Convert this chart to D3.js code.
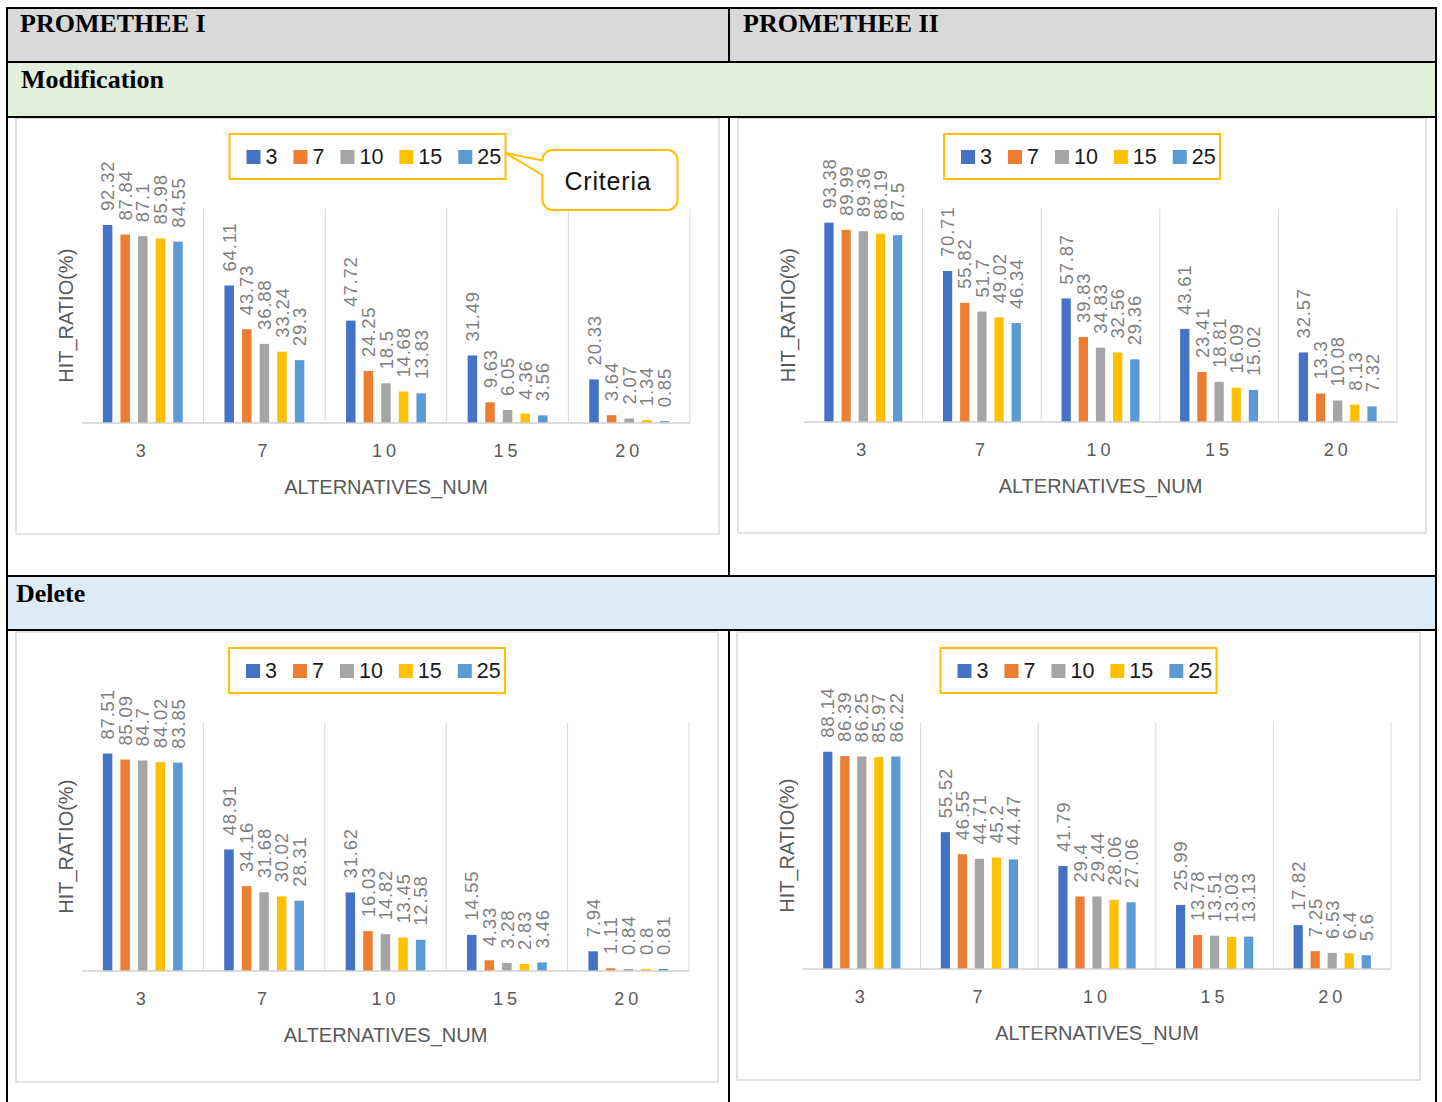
<!DOCTYPE html>
<html>
<head>
<meta charset="utf-8">
<script src="https://cdn.jsdelivr.net/npm/d3@7"></script>
<style>
  html, body { margin: 0; padding: 0; background: #fff; }
  svg { display: block; }
</style>
</head>
<body>
<svg id="page" width="1442" height="1102"></svg>
<script>
// Category axis: number of alternatives; series: number of criteria
const alternatives = ["3", "7", "10", "15", "20"];
const criteria = ["3", "7", "10", "15", "25"];
const criteriaColors = ["#4472c4", "#ed7d31", "#a5a5a5", "#ffc000", "#5b9bd5"];

// Hit ratio (%) — one row per criteria count, one value per alternatives count
const modificationI = [
  [92.32, 64.11, 47.72, 31.49, 20.33],
  [87.84, 43.73, 24.25, 9.63, 3.64],
  [87.1, 36.88, 18.5, 6.05, 2.07],
  [85.98, 33.24, 14.68, 4.36, 1.34],
  [84.55, 29.3, 13.83, 3.56, 0.85]
];
const modificationII = [
  [93.38, 70.71, 57.87, 43.61, 32.57],
  [89.99, 55.82, 39.83, 23.41, 13.3],
  [89.36, 51.7, 34.83, 18.81, 10.08],
  [88.19, 49.02, 32.56, 16.09, 8.13],
  [87.5, 46.34, 29.36, 15.02, 7.32]
];
const deleteI = [
  [87.51, 48.91, 31.62, 14.55, 7.94],
  [85.09, 34.16, 16.03, 4.33, 1.11],
  [84.7, 31.68, 14.82, 3.28, 0.84],
  [84.02, 30.02, 13.45, 2.83, 0.8],
  [83.85, 28.31, 12.58, 3.46, 0.81]
];
const deleteII = [
  [88.14, 55.52, 41.79, 25.99, 17.82],
  [86.39, 46.55, 29.4, 13.78, 7.25],
  [86.25, 44.71, 29.44, 13.51, 6.53],
  [85.97, 45.2, 28.06, 13.03, 6.4],
  [86.22, 44.47, 27.06, 13.13, 5.6]
];

const columnTitles = ["PROMETHEE I", "PROMETHEE II"];
const rowTitles = ["Modification", "Delete"];
const xAxisTitle = "ALTERNATIVES_NUM";
const yAxisTitle = "HIT_RATIO(%)";
const calloutText = "Criteria";

const svg = d3.select("#page");
const SANS = "'Liberation Sans', Arial, sans-serif";
const SERIF = "'Liberation Serif', 'Times New Roman', serif";

// ---------- table background ----------
const table = svg.append("g");
table.append("rect").attr("x", 7).attr("y", 8).attr("width", 1429).attr("height", 54).attr("fill", "#d9d9d9");
table.append("rect").attr("x", 7).attr("y", 62).attr("width", 1429).attr("height", 55).attr("fill", "#e2efda");
table.append("rect").attr("x", 7).attr("y", 576).attr("width", 1429).attr("height", 54).attr("fill", "#ddebf7");

// ---------- one clustered bar chart ----------
function drawChart(panel, rows, withCallout) {
  const g = svg.append("g");
  g.append("rect")
    .attr("x", panel.x).attr("y", panel.y)
    .attr("width", panel.w).attr("height", panel.h)
    .attr("fill", "#fff").attr("stroke", "#d9d9d9").attr("stroke-width", 1.5);

  const left = panel.x + 66, right = panel.x + panel.w - 29;
  const top = panel.y + 90.5, bottom = panel.y + panel.h - 111;

  const x = d3.scaleBand().domain(alternatives).range([left, right]).padding(0);
  const xs = d3.scaleBand().domain(criteria).range([0, x.bandwidth()])
    .paddingInner(0.46).paddingOuter(1.185);
  const y = d3.scaleLinear().domain([0, 100]).range([bottom, top]);
  const color = d3.scaleOrdinal().domain(criteria).range(criteriaColors);

  // category separators
  g.append("g").selectAll("line").data(alternatives).join("line")
    .attr("x1", d => x(d) + x.bandwidth()).attr("x2", d => x(d) + x.bandwidth())
    .attr("y1", top).attr("y2", bottom)
    .attr("stroke", "#d9d9d9").attr("stroke-width", 1);

  const records = [];
  criteria.forEach((c, i) => {
    alternatives.forEach((a, j) => records.push({ alt: a, crit: c, value: rows[i][j] }));
  });

  // bars
  g.append("g").selectAll("rect").data(records).join("rect")
    .attr("x", d => x(d.alt) + xs(d.crit))
    .attr("width", xs.bandwidth())
    .attr("y", d => y(d.value))
    .attr("height", d => y(0) - y(d.value))
    .attr("fill", d => color(d.crit));

  // category axis
  const axis = g.append("g").attr("transform", `translate(0,${bottom})`)
    .call(d3.axisBottom(x).tickSize(0).tickPadding(21));
  axis.select(".domain").remove();
  axis.selectAll("text")
    .attr("font-family", SANS).attr("font-size", 18)
    .attr("letter-spacing", "4px").attr("dx", 0)
    .attr("fill", "#595959");
  g.append("line").attr("x1", left).attr("x2", right)
    .attr("y1", bottom).attr("y2", bottom)
    .attr("stroke", "#d0d0d0").attr("stroke-width", 1.5);

  // value labels, rotated above each bar
  g.append("g").selectAll("text").data(records).join("text")
    .attr("transform", d => `translate(${x(d.alt) + xs(d.crit) + xs.bandwidth() / 2},${y(d.value) - 14}) rotate(-90)`)
    .attr("dy", "0.36em")
    .attr("font-family", SANS).attr("font-size", 18.5)
    .attr("letter-spacing", "0.8px")
    .attr("fill", "#7f7f7f")
    .text(d => d.value);

  // axis titles
  g.append("text")
    .attr("x", (left + right) / 2).attr("y", bottom + 71)
    .attr("text-anchor", "middle")
    .attr("font-family", SANS).attr("font-size", 20).attr("fill", "#595959")
    .text(xAxisTitle);
  g.append("text")
    .attr("transform", `translate(${left - 9},${(top + bottom) / 2}) rotate(-90)`)
    .attr("text-anchor", "middle")
    .attr("font-family", SANS).attr("font-size", 20).attr("fill", "#595959")
    .text(yAxisTitle);

  // legend
  const lw = 276, lh = 45;
  const lx = panel.x + panel.w / 2 - lw / 2, ly = panel.y + 16;
  const legend = g.append("g");
  legend.append("rect").attr("x", lx).attr("y", ly).attr("width", lw).attr("height", lh)
    .attr("fill", "#fff").attr("stroke", "#ffc000").attr("stroke-width", 2);
  let cx = lx + 17;
  criteria.forEach(c => {
    legend.append("rect").attr("x", cx).attr("y", ly + 16).attr("width", 14).attr("height", 14)
      .attr("fill", color(c));
    const t = legend.append("text").attr("x", cx + 19).attr("y", ly + 29.5)
      .attr("font-family", SANS).attr("font-size", 21.5).attr("fill", "#1a1a1a")
      .text(c);
    cx += 19 + t.node().getComputedTextLength() + 16;
  });

  if (withCallout) {
    const L = lx + lw + 37, T = ly + 16, R = L + 135, B = T + 60, r = 10;
    const tipX = lx + lw, tipY = ly + 19;
    const p = d3.path();
    p.moveTo(L + r, T);
    p.lineTo(R - r, T); p.arcTo(R, T, R, T + r, r);
    p.lineTo(R, B - r); p.arcTo(R, B, R - r, B, r);
    p.lineTo(L + r, B); p.arcTo(L, B, L, B - r, r);
    p.lineTo(L, T + 25);
    p.lineTo(tipX, tipY);
    p.lineTo(L, T + 10.5);
    p.lineTo(L, T + r); p.arcTo(L, T, L + r, T, r);
    p.closePath();
    g.append("path").attr("d", p.toString())
      .attr("fill", "#fff").attr("stroke", "#ffc000").attr("stroke-width", 2)
      .attr("stroke-linejoin", "round");
    g.append("text")
      .attr("x", (L + R) / 2 - 2).attr("y", T + 40)
      .attr("text-anchor", "middle")
      .attr("font-family", SANS).attr("font-size", 25).attr("letter-spacing", "0.8px")
      .attr("fill", "#111")
      .text(calloutText);
  }
}

drawChart({ x: 16, y: 118, w: 703, h: 416 }, modificationI, true);
drawChart({ x: 738, y: 118, w: 688, h: 415 }, modificationII, false);
drawChart({ x: 16, y: 632, w: 702, h: 450 }, deleteI, false);
drawChart({ x: 737, y: 632, w: 683, h: 448 }, deleteII, false);

// ---------- table rules and headings ----------
const rules = svg.append("g").attr("stroke", "#000").attr("stroke-width", 2);
[8, 62, 117, 576, 630].forEach(yy =>
  rules.append("line").attr("x1", 6).attr("x2", 1437).attr("y1", yy).attr("y2", yy));
rules.append("line").attr("x1", 7).attr("x2", 7).attr("y1", 7).attr("y2", 1102);
rules.append("line").attr("x1", 1436).attr("x2", 1436).attr("y1", 7).attr("y2", 1102);
[[8, 62], [117, 576], [630, 1102]].forEach(([a, b]) =>
  rules.append("line").attr("x1", 729).attr("x2", 729).attr("y1", a).attr("y2", b));

const head = svg.append("g")
  .attr("font-family", SERIF).attr("font-weight", "bold").attr("font-size", 26).attr("fill", "#000");
head.append("text").attr("x", 20).attr("y", 32).text(columnTitles[0]);
head.append("text").attr("x", 743).attr("y", 32).text(columnTitles[1]);
head.append("text").attr("x", 21).attr("y", 88).text(rowTitles[0]);
head.append("text").attr("x", 16).attr("y", 602).text(rowTitles[1]);
</script>
</body>
</html>
